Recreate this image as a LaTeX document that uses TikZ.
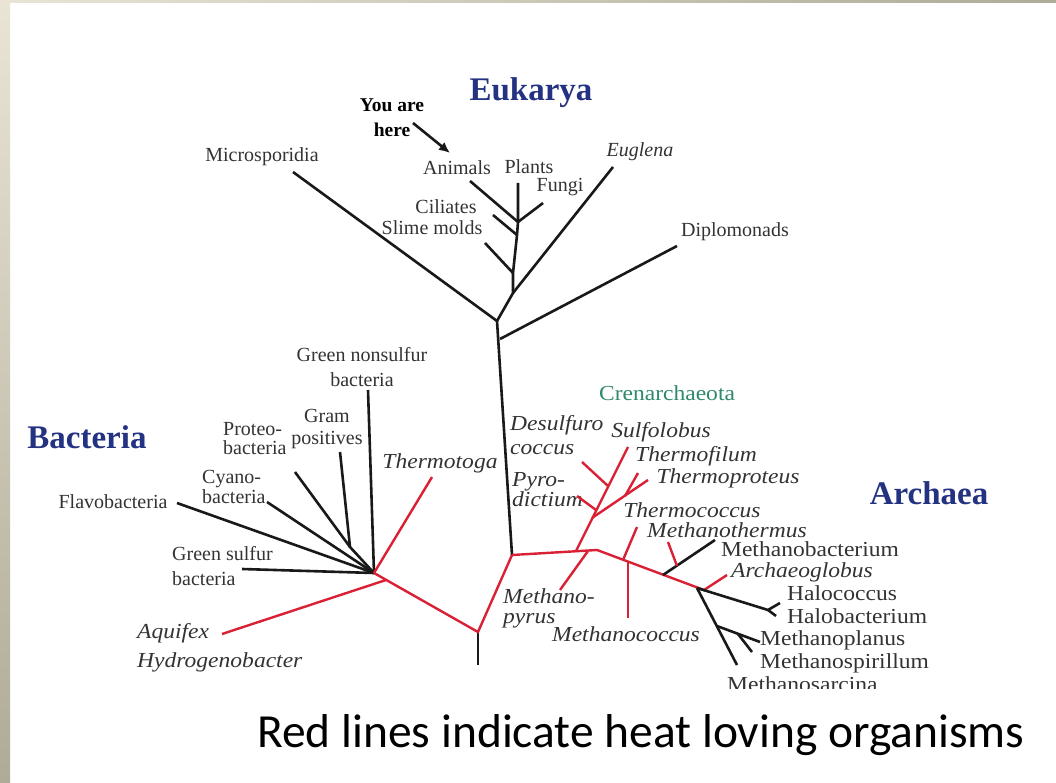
\documentclass[tikz,border=0pt]{standalone}
\usepackage{fontspec}
\setmainfont{Liberation Serif}
\newfontfamily\widefont[FakeStretch=1.1]{Liberation Serif}
\newfontfamily\captionfont{Carlito}
\usetikzlibrary{arrows.meta}

\definecolor{heatred}{RGB}{218,32,52}
\definecolor{domainblue}{RGB}{36,50,130}
\definecolor{crengreen}{RGB}{46,138,108}
\definecolor{inktree}{RGB}{25,25,25}
\definecolor{beigelight}{RGB}{233,228,212}
\definecolor{beigedark}{RGB}{176,170,152}

\begin{document}
\begin{tikzpicture}[
    x=1pt, y=-1pt,
    >=Latex,
    every node/.style={inner sep=0pt, text=black!80},
    lab/.style={font=\fontsize{20}{#1}\selectfont},
    lab/.default=22,
    labit/.style={font=\widefont\fontsize{21.4}{#1}\selectfont\itshape},
    labit/.default=26,
    labbig/.style={font=\widefont\fontsize{21.4}{26}\selectfont},
    domhead/.style={font=\fontsize{33}{36}\selectfont\bfseries, text=domainblue},
    blk/.style={draw=inktree, line width=2.6pt},
    hot/.style={draw=heatred, line width=2.4pt}
]
\useasboundingbox (0,0) rectangle (1056,783);
\fill[white] (0,0) rectangle (1056,783);
\shade[top color=beigelight, bottom color=beigedark] (0,0) rectangle (10,783);
\shade[left color=beigelight, right color=beigedark] (0,0) rectangle (1056,3);

% domain titles
\node[domhead] (eukarya) at (531,93) {Eukarya};
\node[domhead] (bacteria) at (87,437) {Bacteria};
\node[domhead] (archaea) at (929,493) {Archaea};

% eukarya
\coordinate (euk) at (497,321);
\coordinate (dipj) at (500,339);
\coordinate (eugj) at (513,293);
\coordinate (slimej) at (513,273);
\coordinate (cilj) at (517,235);
\coordinate (anj) at (518,222);
\coordinate (microtip) at (293,172);
\coordinate (animtip) at (470,181);
\coordinate (planttip) at (518,183);
\coordinate (fungitip) at (543,203);
\coordinate (ciltip) at (493,215);
\coordinate (slimetip) at (485,243);
\coordinate (eugtip) at (613,167);
\coordinate (diptip) at (677,246);

\node[lab] (micro) at (262,157) {Microsporidia};
\node[lab] (animals) at (457,168) {Animals};
\node[lab] (plants) at (529,167) {Plants};
\node[lab] (fungi) at (560,187) {Fungi};
\node[lab] (ciliates) at (446,207) {Ciliates};
\node[lab] (slime) at (432,228) {Slime molds};
\node[font=\fontsize{20}{22}\selectfont\itshape] (euglena) at (640,152) {Euglena};
\node[lab] (diplo) at (735,232) {Diplomonads};

\node[font=\fontsize{19.5}{25}\selectfont\bfseries, text=black, align=center] (you) at (392,118) {You are\\here};
\coordinate (youfrom) at (413,123);
\coordinate (youto) at (450,153);
\draw[-{Latex[length=11pt,width=10pt]}, line width=2.6pt, inktree] (youfrom) -- (youto);

\draw[blk] (euk) -- (microtip);
\draw[blk] (euk) -- (eugj) -- (slimej) -- (cilj) -- (anj) -- (planttip);
\draw[blk] (anj) -- (animtip);
\draw[blk] (anj) -- (fungitip);
\draw[blk] (cilj) -- (ciltip);
\draw[blk] (slimej) -- (slimetip);
\draw[blk] (eugj) -- (eugtip);
\draw[blk] (dipj) -- (diptip);

% trunk and root
\coordinate (arj) at (512,555);
\coordinate (root) at (478,632);
\coordinate (rootend) at (478,665);
\draw[blk] (euk) -- (arj);
\draw[blk] (root) -- (rootend);

% bacteria
\coordinate (bacj) at (374,573);
\coordinate (aqj) at (386,580);
\coordinate (gramj) at (350,547);
\coordinate (gstip) at (242,569);
\coordinate (flavotip) at (177,503);
\coordinate (cyanotip) at (267,502);
\coordinate (proteotip) at (295,472);
\coordinate (gramtip) at (340,452);
\coordinate (gnstip) at (368,390);
\coordinate (toggatip) at (432,477);
\coordinate (aquitip) at (222,634);

\node[lab=25, align=center] (gns) at (362,367) {Green nonsulfur\\bacteria};
\node[lab=22, align=center] (gram) at (327,429) {Gram\\positives};
\node[lab=19, align=left, anchor=west] (proteo) at (223,439) {Proteo-\\bacteria};
\node[lab=20, align=left, anchor=west] (cyano) at (202,487) {Cyano-\\bacteria};
\node[lab] (flavo) at (113,502) {Flavobacteria};
\node[lab=25, align=left, anchor=west] (gsulf) at (172,566) {Green sulfur\\bacteria};
\node[labit] (toga) at (440,463) {Thermotoga};
\node[labit=29, align=left, anchor=west] (aquifex) at (137,648) {Aquifex\\Hydrogenobacter};

\draw[blk] (gstip) -- (bacj);
\draw[blk] (flavotip) -- (bacj);
\draw[blk] (cyanotip) -- (bacj);
\draw[blk] (proteotip) -- (gramj);
\draw[blk] (gramtip) -- (gramj) -- (bacj);
\draw[blk] (gnstip) -- (bacj);
\draw[hot] (arj) -- (root) -- (bacj);
\draw[hot] (bacj) -- (toggatip);
\draw[hot] (aqj) -- (aquitip);

% archaea
\coordinate (arh) at (597,550);
\coordinate (crenj) at (576,551);
\coordinate (mpyj) at (588,551);
\coordinate (mpytip) at (560,590);
\coordinate (sulftip) at (628,447);
\coordinate (desj) at (608,486);
\coordinate (destip) at (582,462);
\coordinate (pyrj) at (596,510);
\coordinate (pyrtip) at (577,496);
\coordinate (tpj) at (592,518);
\coordinate (tptip) at (648,480);
\coordinate (tfj) at (625,496);
\coordinate (tftip) at (638,473);
\coordinate (tcj) at (623,560);
\coordinate (tctip) at (637,527);
\coordinate (mcj) at (628,562);
\coordinate (mctip) at (628,618);
\coordinate (mbj) at (663,575);
\coordinate (mbtip) at (715,540);
\coordinate (mtj) at (677,566);
\coordinate (mttip) at (668,542);
\coordinate (hj) at (697,588);
\coordinate (agj) at (704,590);
\coordinate (agtip) at (727,575);
\coordinate (haloj) at (768,610);
\coordinate (hcctip) at (780,603);
\coordinate (hbtip) at (776,616);
\coordinate (msj) at (717,626);
\coordinate (msctip) at (737,665);
\coordinate (mplj) at (738,634);
\coordinate (mpltip) at (760,642);
\coordinate (msptip) at (752,652);

\node[labbig, text=crengreen] (cren) at (667,393) {Crenarchaeota};
\node[labit=24, align=left, anchor=west] (desulf) at (510,435) {Desulfuro\\coccus};
\node[labit] (sulfo) at (661,432) {Sulfolobus};
\node[labit] (tfil) at (696,456) {Thermofilum};
\node[labit] (tprot) at (728,478) {Thermoproteus};
\node[labit=20, align=left, anchor=west] (pyro) at (512,490) {Pyro-\\dictium};
\node[labit] (tcoc) at (692,510) {Thermococcus};
\node[labit] (mtherm) at (727,530) {Methanothermus};
\node[labbig] (mbact) at (810,549) {Methanobacterium};
\node[labit] (aglob) at (802,572) {Archaeoglobus};
\node[labbig, anchor=west] (hcoc) at (787,593) {Halococcus};
\node[labbig, anchor=west] (hbact) at (787,616) {Halobacterium};
\node[labbig, anchor=west] (mplan) at (760,640) {Methanoplanus};
\node[labbig, anchor=west] (mspir) at (760,663) {Methanospirillum};
\begin{scope}
  \clip (700,668) rectangle (920,688);
  \node[labbig, anchor=west] (msarc) at (727,684) {Methanosarcina};
\end{scope}
\node[labit=20, align=left, anchor=west] (mpyrus) at (503,608) {Methano-\\pyrus};
\node[labit] (mcoc) at (626,634) {Methanococcus};

\draw[hot] (arj) -- (arh) -- (agj) -- (agtip);
\draw[hot] (crenj) -- (sulftip);
\draw[hot] (desj) -- (destip);
\draw[hot] (pyrj) -- (pyrtip);
\draw[hot] (tpj) -- (tptip);
\draw[hot] (tfj) -- (tftip);
\draw[hot] (mpyj) -- (mpytip);
\draw[hot] (tcj) -- (tctip);
\draw[hot] (mcj) -- (mctip);
\draw[blk] (mbj) -- (mbtip);
\draw[hot] (mtj) -- (mttip);
\draw[blk] (hj) -- (haloj) -- (hcctip);
\draw[blk] (haloj) -- (hbtip);
\draw[blk] (hj) -- (msctip);
\draw[blk] (msj) -- (mpltip);
\draw[blk] (mplj) -- (msptip);

% caption
\node[font=\captionfont\fontsize{47.5}{50}\selectfont, text=black] (caption) at (641,735) {Red lines indicate heat loving organisms};

\end{tikzpicture}
\end{document}
